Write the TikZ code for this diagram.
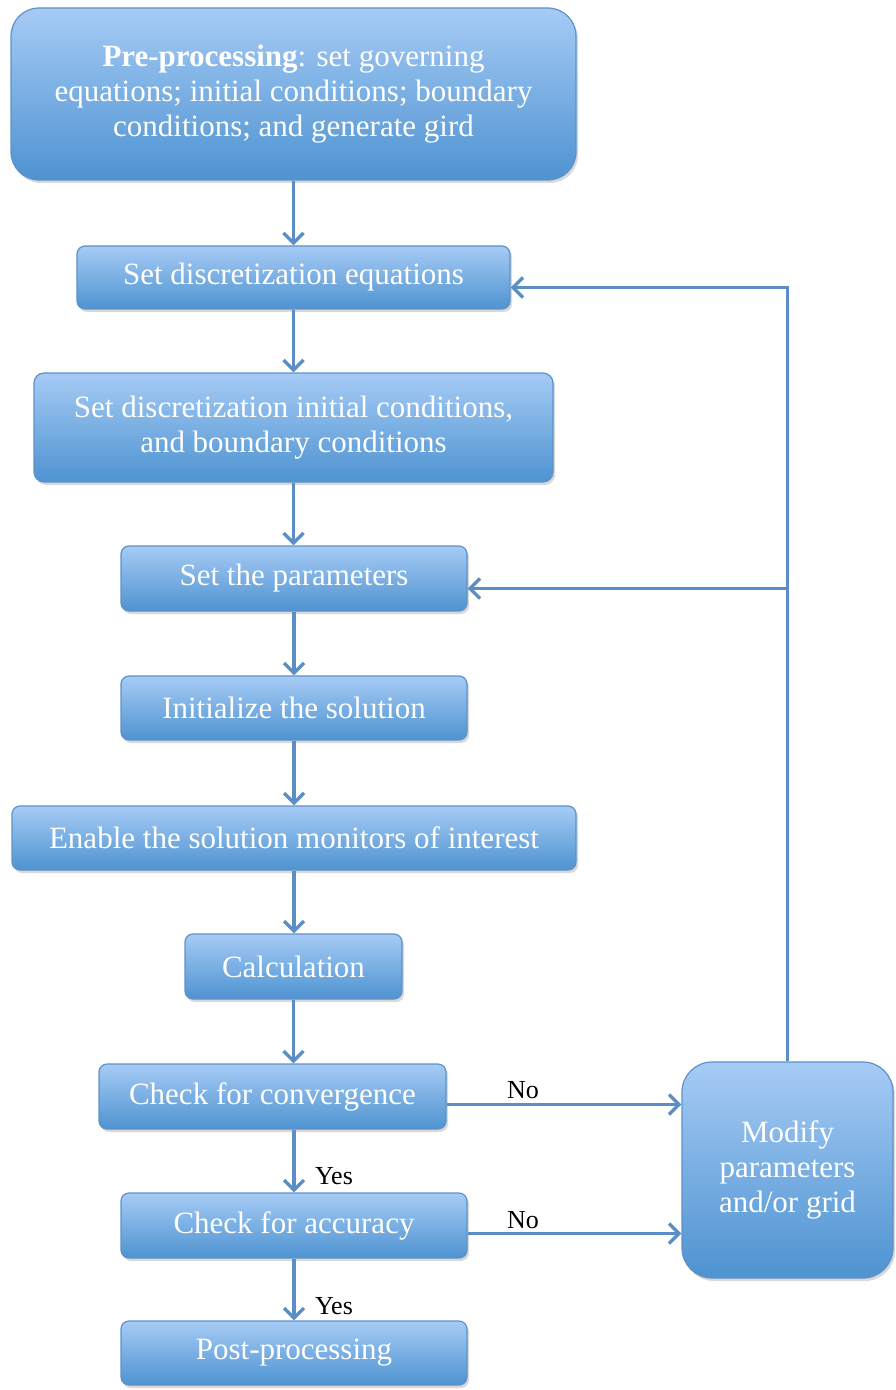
\documentclass[tikz,border=0pt]{standalone}
\usepackage{fontspec}
\setmainfont{Liberation Serif}
\usetikzlibrary{arrows.meta,shadows,positioning,calc}
\definecolor{boxtop}{HTML}{A6CBF5}
\definecolor{boxbot}{HTML}{4E93D1}
\definecolor{boxline}{HTML}{5C92C8}
\definecolor{flowblue}{HTML}{5B8EC4}

\begin{document}
\begin{tikzpicture}[x=0.5pt,y=-0.5pt,
box/.style={draw=boxline,line width=0.6pt,top color=boxtop,bottom color=boxbot,
  rounded corners=4pt,text=white,align=center,inner sep=0pt,
  font=\fontsize{15.5}{17.5}\selectfont,
  drop shadow={shadow xshift=1pt,shadow yshift=-1.5pt,opacity=0.3}},
flow/.style={draw=flowblue,line width=1.7pt,-{Straight Barb[length=5pt,width=10pt]}},
lbl/.style={font=\fontsize{13}{15}\selectfont}]
\useasboundingbox (0,0) rectangle (895,1390);
\node[box,minimum width=282.5pt,minimum height=86pt,rounded corners=14pt] (pre) at (293.5,94)
  {\textbf{Pre-processing}: set governing\\equations; initial conditions; boundary\\conditions; and generate gird};
\node[box,minimum width=216.5pt,minimum height=31.5pt] (eqs) at (293.5,277.5) {Set discretization equations};
\node[box,minimum width=259.5pt,minimum height=54.5pt,rounded corners=5pt] (dics) at (293.5,427.5)
  {Set discretization initial conditions,\\and boundary conditions};
\node[box,minimum width=173pt,minimum height=32.5pt] (par) at (294,578.5) {Set the parameters};
\node[box,minimum width=173pt,minimum height=32pt] (init) at (294,708) {Initialize the solution};
\node[box,minimum width=282pt,minimum height=32pt] (mon) at (294,838) {Enable the solution monitors of interest};
\node[box,minimum width=108.5pt,minimum height=32.5pt] (calc) at (293.5,966.5) {Calculation};
\node[box,minimum width=173.5pt,minimum height=32.5pt] (conv) at (272.5,1096.5) {Check for convergence};
\node[box,minimum width=173pt,minimum height=32.5pt] (acc) at (294,1225.5) {Check for accuracy};
\node[box,minimum width=173pt,minimum height=32pt] (post) at (294,1353) {Post-processing};
\node[box,minimum width=105.5pt,minimum height=108pt,rounded corners=15pt] (mod) at (787.5,1170)
  {Modify\\parameters\\and/or grid};

\draw[flow] (pre.south) -- (pre.south |- eqs.north);
\draw[flow] (eqs.south) -- (eqs.south |- dics.north);
\draw[flow] (dics.south) -- (dics.south |- par.north);
\draw[flow] (par.south) -- (par.south |- init.north);
\draw[flow] (init.south) -- (init.south |- mon.north);
\draw[flow] (mon.south) -- (mon.south |- calc.north);
\draw[flow] (calc.south) -- (calc.south |- conv.north);
\draw[flow] (acc.north |- conv.south) -- (acc.north);
\draw[flow] (acc.south) -- (acc.south |- post.north);
\draw[flow] ($(conv.east)+(0,8)$) coordinate (c1) -- (c1 -| mod.west);
\draw[flow] ($(acc.east)+(0,8)$) coordinate (c2) -- (c2 -| mod.west);
\coordinate (top) at ($(mod.north |- eqs.east)+(0,10)$);
\coordinate (mid) at ($(mod.north |- par.east)+(0,10)$);
\draw[flow] (mod.north) -- (top) -- (top -| eqs.east);
\draw[flow] (mid) -- (mid -| par.east);

\node[lbl] (no1) at (523,1090) {No};
\node[lbl] (no2) at (523,1220) {No};
\node[lbl,anchor=west] (yes1) at (308,1176) {Yes};
\node[lbl,anchor=west] (yes2) at (308,1306) {Yes};
\end{tikzpicture}
\end{document}
